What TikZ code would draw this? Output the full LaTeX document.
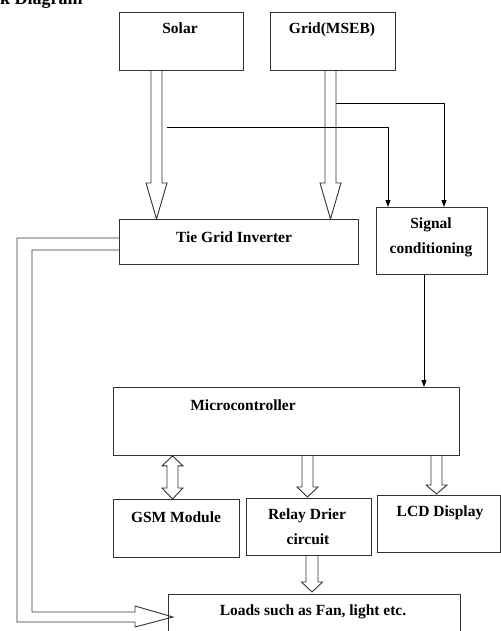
\documentclass[tikz,border=0pt]{standalone}
\usepackage{fontspec}
\setmainfont{Liberation Serif}
\usetikzlibrary{calc,arrows.meta}
\newcommand\hollowdown[5]{% #1 x centre, #2 start anchor, #3 tip anchor, #4 half shaft, #5 head length
  \draw[hollow] let \p1=(#2), \p2=(#3) in
    ({#1pt-#4pt},\y1) -- ({#1pt-#4pt},{\y2+#5pt}) -- ({#1pt-10.5pt},{\y2+#5pt}) --
    ({#1pt},\y2) -- ({#1pt+10.5pt},{\y2+#5pt}) -- ({#1pt+#4pt},{\y2+#5pt}) -- ({#1pt+#4pt},\y1);}
\begin{document}
\begin{tikzpicture}[x=1pt,y=-1pt,
  box/.style={draw=black!80,line width=0.9pt,rectangle,inner sep=0pt,anchor=north west},
  txt/.style={font=\fontsize{15.5}{18}\selectfont\bfseries,inner sep=0pt,align=center},
  hollow/.style={draw=black!80,line width=0.9pt,line join=miter},
  sigline/.style={draw=black,line width=0.9pt,-{Triangle[length=7pt,width=5pt]}}]
\useasboundingbox (0,0) rectangle (500,631);

\node[anchor=base west,font=\fontsize{18}{20}\selectfont\bfseries,inner sep=0pt] (title) at (0,5) {k Diagram};

% boxes
\node[box,minimum width=124pt,minimum height=58pt] (solar) at (119,12) {};
\node[txt] (solarT) at (180,28) {Solar};
\node[box,minimum width=125pt,minimum height=58pt] (grid) at (270,12) {};
\node[txt] (gridT) at (332,30) {Grid(MSEB)};
\node[box,minimum width=239pt,minimum height=45pt] (tgi) at (119,219) {};
\node[txt] (tgiT) at (234,237) {Tie Grid Inverter};
\node[box,minimum width=111pt,minimum height=67pt] (sig) at (376,207) {};
\node[txt] (sigT1) at (431,225) {Signal};
\node[txt] (sigT2) at (431,250) {conditioning};
\node[box,minimum width=346pt,minimum height=68pt] (micro) at (113,387) {};
\node[txt] (microT) at (243,405) {Microcontroller};
\node[box,minimum width=126pt,minimum height=58pt] (gsm) at (113,499) {};
\node[txt] (gsmT) at (176,517) {GSM Module};
\node[box,minimum width=125pt,minimum height=57pt] (relay) at (246,498) {};
\node[txt] (relayT1) at (307,516) {Relay Drier};
\node[txt] (relayT2) at (308,539) {circuit};
\node[box,minimum width=122.5pt,minimum height=57pt] (lcd) at (377,495) {};
\node[txt] (lcdT) at (440,513) {LCD Display};
\node[box,minimum width=292pt,minimum height=50pt] (loads) at (168,594) {};
\node[txt] (loadsT) at (313,612) {Loads such as Fan, light etc.};

% hollow power arrows
\hollowdown{156.5}{solar.south}{tgi.north}{5.5}{36}
\hollowdown{330.5}{grid.south}{tgi.north}{5.5}{36}
\hollowdown{307.5}{micro.south}{$(relay.north)+(0,-1)$}{5.5}{10}
\hollowdown{436.5}{micro.south}{$(lcd.north)+(0,-1)$}{5.5}{9}
\hollowdown{312}{relay.south}{$(loads.north)+(0,-2)$}{6}{10}

% GSM double headed arrow
\draw[hollow] let \p1=(micro.south), \p2=(gsm.north) in
  (172.5pt,\y1) -- (183pt,{\y1-10pt}) -- (178pt,{\y1-10pt}) -- (178pt,{\y2+11pt}) --
  (183pt,{\y2+11pt}) -- (172.5pt,\y2) -- (162pt,{\y2+11pt}) -- (167pt,{\y2+11pt}) --
  (167pt,{\y1-10pt}) -- (162pt,{\y1-10pt}) -- cycle;

% inverter to loads
\draw[hollow] ($(tgi.north west)+(0,19)$) -- (17,238) -- (17,622) -- (135,622) -- (135,627)
  -- ($(loads.north west)+(5,23)$) -- (135,606) -- (135,612) -- (32,612) -- (32,250)
  -- ($(tgi.north west)+(0,31)$);

% signal lines
\coordinate (gridtap) at (336,103);
\coordinate (solartap) at (167,127);
\draw[sigline] (gridtap) -- (444,103) -- (444,0 |- sig.north);
\draw[sigline] (solartap) -- (388,127) -- (388,0 |- sig.north);
\draw[sigline] (424,0 |- sig.south) -- (424,0 |- micro.north);
\end{tikzpicture}
\end{document}
